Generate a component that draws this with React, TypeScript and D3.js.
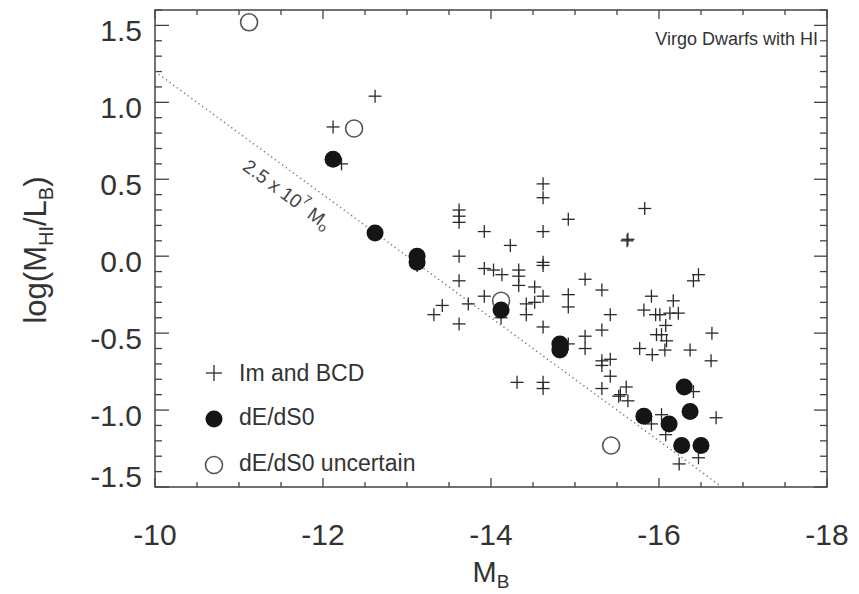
import React from "react";
import * as d3 from "d3";

// ---- data ----
const imMag = [-12.62, -12.12, -12.22, -13.12, -14.62, -14.62, -13.62, -13.62, -13.62, -14.92, -13.92, -14.62, -14.23, -13.62, -14.62, -14.62, -13.92, -14.03, -14.13, -14.33, -14.33, -14.33, -13.62, -14.52, -15.12, -15.32, -13.92, -13.73, -14.62, -14.52, -14.42, -14.42, -14.92, -14.92, -15.42, -13.42, -13.32, -13.62, -14.62, -15.32, -14.12, -15.12, -15.12, -14.92, -15.32, -15.42, -15.32, -15.42, -15.32, -15.52, -14.31, -14.62, -14.62, -15.83, -15.63, -15.62, -16.41, -16.47, -15.91, -16.17, -15.82, -15.96, -16.01, -16.13, -16.23, -16.08, -16.63, -15.97, -16.03, -16.09, -15.77, -15.92, -16.07, -16.37, -16.62, -15.61, -15.54, -15.63, -16.41, -16.68, -16.03, -15.91, -16.08, -16.24, -16.47];
const imLogRatio = [1.04, 0.84, 0.60, -0.06, 0.47, 0.38, 0.30, 0.26, 0.22, 0.24, 0.16, 0.16, 0.07, 0.00, -0.04, -0.06, -0.08, -0.09, -0.12, -0.09, -0.13, -0.19, -0.16, -0.20, -0.15, -0.22, -0.26, -0.31, -0.26, -0.30, -0.31, -0.38, -0.25, -0.33, -0.38, -0.32, -0.38, -0.44, -0.46, -0.48, -0.40, -0.52, -0.60, -0.57, -0.68, -0.67, -0.71, -0.78, -0.86, -0.91, -0.82, -0.82, -0.86, 0.31, 0.11, 0.10, -0.16, -0.12, -0.26, -0.29, -0.35, -0.38, -0.38, -0.37, -0.37, -0.45, -0.50, -0.51, -0.51, -0.55, -0.60, -0.64, -0.61, -0.61, -0.68, -0.85, -0.90, -0.94, -0.88, -1.05, -1.03, -1.09, -1.16, -1.35, -1.31];

const dEMag = [-12.12, -12.62, -13.12, -13.12, -14.12, -14.82, -14.82, -15.82, -16.12, -16.30, -16.37, -16.27, -16.50];
const dELogRatio = [0.63, 0.15, 0.00, -0.04, -0.35, -0.57, -0.61, -1.04, -1.09, -0.85, -1.01, -1.23, -1.23];

const uncMag = [-11.12, -12.37, -14.12, -15.43];
const uncLogRatio = [1.52, 0.83, -0.29, -1.23];

const lineMag = [-10, -16.75];
const lineLogRatio = [1.2, -1.5];

const xMajorTicks = [-10, -12, -14, -16, -18];
const yMajorTicks = [-1.5, -1.0, -0.5, 0.0, 0.5, 1.0, 1.5];
const yTickLabels = ["-1.5", "-1.0", "-0.5", "0.0", "0.5", "1.0", "1.5"];

const legendLabels = ["Im and BCD", "dE/dS0", "dE/dS0 uncertain"];
const titleText = "Virgo Dwarfs with HI";

// ---- layout ----
const W = 859, H = 594;
const L = 155, R = 827, T = 10, B = 487;
const FONT = "'Liberation Sans', Arial, Helvetica, sans-serif";
const INK = "#333";

export default function App() {
  const x = d3.scaleLinear().domain([-10, -18]).range([L, R]);
  const y = d3.scaleLinear().domain([-1.5, 1.6]).range([B, T]);

  const xMinor = d3.range(-10, -18.001, -0.5);
  const yMinor = d3.range(-15, 17, 1).map((v) => v / 10);

  const line = d3.line<number>().x((_, i) => x(lineMag[i])).y((d) => y(d));
  const linePath = line(lineLogRatio) || "";

  // annotation along dotted line
  const angle = (Math.atan2(y(lineLogRatio[1]) - y(lineLogRatio[0]), x(lineMag[1]) - x(lineMag[0])) * 180) / Math.PI;
  const aM = -11.72;
  const aY = lineLogRatio[0] + ((lineLogRatio[1] - lineLogRatio[0]) * (aM - lineMag[0])) / (lineMag[1] - lineMag[0]);
  const rad = (angle * Math.PI) / 180;
  const off = 21;
  const ax = x(aM) - Math.sin(rad) * off;
  const ay = y(aY) + Math.cos(rad) * off;

  const crossR = 6.5;
  const circR = 8.5;

  return (
    <svg width={W} height={H} style={{ position: "absolute", left: 0, top: 0, background: "#fff" }} fontFamily={FONT}>
      <rect x={0} y={0} width={W} height={H} fill="#fff" />
      {/* frame */}
      <rect x={L} y={T} width={R - L} height={B - T} fill="none" stroke="#444" strokeWidth={1.5} />
      {/* x ticks bottom & top */}
      {xMinor.map((v, i) => {
        const major = xMajorTicks.includes(v);
        return (
          <g key={"xt" + i} stroke="#444" strokeWidth={1.3}>
            <line x1={x(v)} x2={x(v)} y1={B} y2={B - (major ? 9 : 5)} />
            <line x1={x(v)} x2={x(v)} y1={T} y2={T + (major ? 9 : 5)} />
          </g>
        );
      })}
      {/* y ticks left & right */}
      {yMinor.map((v, i) => {
        const major = Math.abs(v * 2 - Math.round(v * 2)) < 1e-6;
        return (
          <g key={"yt" + i} stroke="#444" strokeWidth={1.3}>
            <line x1={L} x2={L + (major ? 14 : 7)} y1={y(v)} y2={y(v)} />
            <line x1={R} x2={R - (major ? 13 : 7)} y1={y(v)} y2={y(v)} />
          </g>
        );
      })}
      {/* tick labels */}
      {xMajorTicks.map((v) => (
        <text key={"xl" + v} x={x(v)} y={545} textAnchor="middle" fontSize={30} fill={INK}>
          {String(v)}
        </text>
      ))}
      {yMajorTicks.map((v, i) => (
        <text key={"yl" + v} x={142} y={i === 0 ? y(v) - 0.5 : y(v) + 16} textAnchor="end" fontSize={30} fill={INK}>
          {yTickLabels[i]}
        </text>
      ))}
      {/* axis titles */}
      <text x={491} y={582} textAnchor="middle" fontSize={29} fill={INK}>
        M<tspan fontSize={19} dy={6}>B</tspan>
      </text>
      <text transform="translate(46,250) rotate(-90)" textAnchor="middle" fontSize={31} fill={INK}>
        log(M<tspan fontSize={20} dy={7}>HI</tspan>
        <tspan dy={-7}>/L</tspan>
        <tspan fontSize={20} dy={7}>B</tspan>
        <tspan dy={-7}>)</tspan>
      </text>
      {/* title */}
      <text x={818} y={45} textAnchor="end" fontSize={18} fill={INK}>
        {titleText}
      </text>
      {/* dotted line */}
      <path d={linePath} fill="none" stroke="#777" strokeWidth={1.4} strokeDasharray="1.3,3.2" />
      <text
        transform={`translate(${ax},${ay}) rotate(${angle})`}
        textAnchor="middle"
        dominantBaseline="central"
        fontSize={19}
        fill="#444"
      >
        2.5 x 10<tspan fontSize={13} dy={-8}>7</tspan>
        <tspan dy={8}> M</tspan>
        <tspan fontSize={13} dy={5}>o</tspan>
      </text>
      {/* crosses */}
      {imMag.map((m, i) => (
        <g key={"c" + i} stroke="#2a2a2a" strokeWidth={1.3}>
          <line x1={x(m) - crossR} x2={x(m) + crossR} y1={y(imLogRatio[i])} y2={y(imLogRatio[i])} />
          <line x1={x(m)} x2={x(m)} y1={y(imLogRatio[i]) - crossR} y2={y(imLogRatio[i]) + crossR} />
        </g>
      ))}
      {/* open circles */}
      {uncMag.map((m, i) => (
        <circle key={"o" + i} cx={x(m)} cy={y(uncLogRatio[i])} r={circR} fill="none" stroke="#555" strokeWidth={1.6} />
      ))}
      {/* filled circles */}
      {dEMag.map((m, i) => (
        <circle key={"f" + i} cx={x(m)} cy={y(dELogRatio[i])} r={circR} fill="#151515" />
      ))}
      {/* legend */}
      <g>
        <g stroke="#2a2a2a" strokeWidth={1.3}>
          <line x1={214 - 8} x2={214 + 8} y1={373} y2={373} />
          <line x1={214} x2={214} y1={373 - 8} y2={373 + 8} />
        </g>
        <circle cx={214} cy={419} r={circR} fill="#151515" />
        <circle cx={214} cy={465} r={circR} fill="none" stroke="#555" strokeWidth={1.6} />
        {legendLabels.map((t, i) => (
          <text key={t} x={239} y={[381, 425, 471][i]} fontSize={23} fill={INK}>
            {t}
          </text>
        ))}
      </g>
    </svg>
  );
}
